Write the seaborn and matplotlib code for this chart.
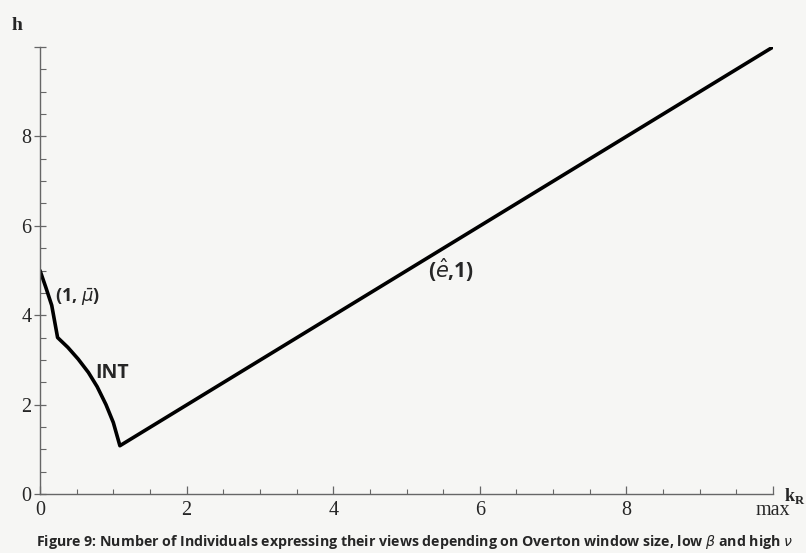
import numpy as np
import pandas as pd
import matplotlib.pyplot as plt
import seaborn as sns

# curve: k_R vs h
k_vals = [0.0, 0.08, 0.16, 0.24, 0.38, 0.52, 0.66, 0.78, 0.90, 1.00, 1.09, 10.0]
h_vals = [5.0, 4.62, 4.22, 3.50, 3.28, 3.02, 2.72, 2.40, 2.00, 1.60, 1.08, 10.0]

x_major = [0, 2, 4, 6, 8, 10]
x_labels = ['0', '2', '4', '6', '8', 'max']
y_major = [0, 2, 4, 6, 8, 10]
y_labels = ['0', '2', '4', '6', '8', '']

caption = ('Figure 9: Number of Individuals expressing their views depending on '
           r'Overton window size, low $\beta$ and high $\nu$')

sns.set_style('white')
plt.rcParams['font.family'] = ['Liberation Serif', 'DejaVu Serif']
plt.rcParams['mathtext.fontset'] = 'dejavusans'

bg = '#f6f6f4'
fig = plt.figure(figsize=(8.06, 5.53), dpi=100, facecolor=bg)
ax = fig.add_axes([40 / 806, 59 / 553, 733 / 806, 447 / 553])
ax.set_facecolor(bg)

df = pd.DataFrame({'k': k_vals, 'h': h_vals})
sns.lineplot(data=df, x='k', y='h', sort=False, color='black', linewidth=2.6, ax=ax)

ax.set_xlim(0, 10)
ax.set_ylim(0, 10)
ax.set_xticks(x_major)
ax.set_xticklabels(x_labels)
ax.set_yticks(y_major)
ax.set_yticklabels(y_labels)
ax.set_xticks(np.arange(0, 10.01, 0.5), minor=True)
ax.set_yticks(np.arange(0, 10.01, 0.5), minor=True)
ax.set_xlabel('')
ax.set_ylabel('')

for s in ['top', 'right']:
    ax.spines[s].set_visible(False)
for s in ['left', 'bottom']:
    ax.spines[s].set_color('#666666')
    ax.spines[s].set_linewidth(1.0)

ax.tick_params(which='both', bottom=True, left=True)
ax.tick_params(axis='x', which='major', direction='in', length=6, width=0.9,
               color='#666666', labelsize=14.5, pad=5)
ax.tick_params(axis='x', which='minor', direction='in', length=3.5, width=0.8,
               color='#666666')
ax.tick_params(axis='y', which='major', direction='inout', length=8, width=0.9,
               color='#666666', labelsize=14.5, pad=2)
ax.tick_params(axis='y', which='minor', direction='in', length=4, width=0.8,
               color='#666666')

sans = ['Open Sans', 'DejaVu Sans']
ax.text(0.2, 4.4, r'(1, $\bar{\mu}$)', fontsize=13, fontweight='bold',
        family=sans, ha='left', va='center')
ax.text(0.76, 2.7, 'INT', fontsize=14, fontweight='bold',
        family=sans, ha='left', va='center')
ax.text(5.3, 5.0, r'($\hat{e}$,1)', fontsize=15, fontweight='bold',
        family=sans, ha='left', va='center')

fig.text(12 / 806, 1 - 25 / 553, 'h', fontsize=14, fontweight='bold', ha='left', va='center')
fig.text(784 / 806, 1 - 496 / 553, r'k$_{\mathregular{R}}$', fontsize=13, fontweight='bold',
         ha='left', va='center')
fig.text(36 / 806, 1 - 542 / 553, caption, fontsize=10.2, fontweight='bold',
         family=sans, ha='left', va='center')

fig.savefig('out.png', dpi=100, facecolor=bg)
